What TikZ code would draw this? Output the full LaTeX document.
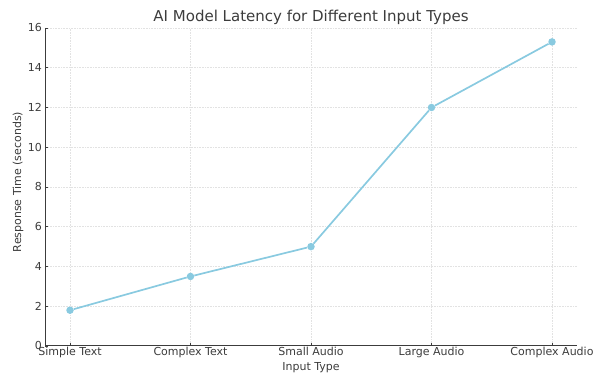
\documentclass[tikz,border=0pt]{standalone}
\usepackage{fontspec}
\setmainfont{DejaVu Sans}
\usepackage{tikz}
\usetikzlibrary{positioning,calc}
\definecolor{skyline}{RGB}{137,202,224}
\definecolor{inkgray}{RGB}{60,60,60}
\definecolor{gridgray}{RGB}{226,226,226}
\tikzset{
    x=1pt,
    y=1pt,
    gridline/.style = {
        draw=gridgray,
        densely dotted,
        line width=0.6pt
    },
    axisline/.style = {
        draw=inkgray,
        line width=1pt
    },
    tickmark/.style = {
        draw=inkgray,
        line width=0.7pt
    },
    datapt/.style = {
        shape=circle,
        fill=skyline,
        inner sep=0pt,
        minimum size=7.5pt
    },
    curve/.style = {
        draw=skyline,
        line width=1.7pt
    },
    yticklabel/.style = {
        anchor=east,
        inner sep=1pt,
        text=inkgray,
        font=\fontsize{11}{13}\selectfont
    },
    xticklabel/.style = {
        anchor=north,
        inner sep=1pt,
        text=inkgray,
        font=\fontsize{11}{13}\selectfont
    },
    axislabel/.style = {
        text=inkgray,
        font=\fontsize{11}{13}\selectfont
    },
}

\begin{document}
\begin{tikzpicture}
                \useasboundingbox (0,0) rectangle (595,374);

                % grid
                \path[gridline] (45,67.75) -- (577,67.75);
                \path[gridline] (45,107.5) -- (577,107.5);
                \path[gridline] (45,147.25) -- (577,147.25);
                \path[gridline] (45,187) -- (577,187);
                \path[gridline] (45,226.75) -- (577,226.75);
                \path[gridline] (45,266.5) -- (577,266.5);
                \path[gridline] (45,306.25) -- (577,306.25);
                \path[gridline] (45,346) -- (577,346);
                \path[gridline] (70,28) -- (70,346);
                \path[gridline] (190.5,28) -- (190.5,346);
                \path[gridline] (311,28) -- (311,346);
                \path[gridline] (431.5,28) -- (431.5,346);
                \path[gridline] (552,28) -- (552,346);

                % axes
                \coordinate (orig) at (45,28);
                \coordinate (xend) at (577,28);
                \coordinate (ytop) at (45,346);
                \path[axisline] (ytop) -- (orig) -- (xend);

                \path[tickmark] (45,28) -- (48,28);
                \path[tickmark] (45,67.75) -- (48,67.75);
                \path[tickmark] (45,107.5) -- (48,107.5);
                \path[tickmark] (45,147.25) -- (48,147.25);
                \path[tickmark] (45,187) -- (48,187);
                \path[tickmark] (45,226.75) -- (48,226.75);
                \path[tickmark] (45,266.5) -- (48,266.5);
                \path[tickmark] (45,306.25) -- (48,306.25);
                \path[tickmark] (45,346) -- (48,346);
                \path[tickmark] (70,28) -- (70,31);
                \path[tickmark] (190.5,28) -- (190.5,31);
                \path[tickmark] (311,28) -- (311,31);
                \path[tickmark] (431.5,28) -- (431.5,31);
                \path[tickmark] (552,28) -- (552,31);

                \node[yticklabel] (y0) at (43,28) {0};
                \node[yticklabel] (y2) at (43,67.75) {2};
                \node[yticklabel] (y4) at (43,107.5) {4};
                \node[yticklabel] (y6) at (43,147.25) {6};
                \node[yticklabel] (y8) at (43,187) {8};
                \node[yticklabel] (y10) at (43,226.75) {10};
                \node[yticklabel] (y12) at (43,266.5) {12};
                \node[yticklabel] (y14) at (43,306.25) {14};
                \node[yticklabel] (y16) at (43,346) {16};

                \node[xticklabel] (lst) at (70,28) {Simple Text};
                \node[xticklabel] (lct) at (190.5,28) {Complex Text};
                \node[xticklabel] (lsa) at (311,28) {Small Audio};
                \node[xticklabel] (lla) at (431.5,28) {Large Audio};
                \node[xticklabel] (lca) at (552,28) {Complex Audio};

                \node[axislabel] (xlab) at (311,6) {Input Type};
                \node[axislabel, rotate=90] (ylab) at (18,192) {Response Time (seconds)};
                \node[text=inkgray, font=\fontsize{15}{17}\selectfont] (title) at (311,357)
                {AI Model Latency for Different Input Types};

                % data
                \node[datapt] (st) at (70,63.78) {};
                \node[datapt] (ct) at (190.5,97.56) {};
                \node[datapt] (sa) at (311,127.38) {};
                \node[datapt] (la) at (431.5,266.5) {};
                \node[datapt] (ca) at (552,332.09) {};

                \path[curve] (st) -- (ct);
                \path[curve] (ct) -- (sa);
                \path[curve] (sa) -- (la);
                \path[curve] (la) -- (ca);
            \end{tikzpicture}
\end{document}
